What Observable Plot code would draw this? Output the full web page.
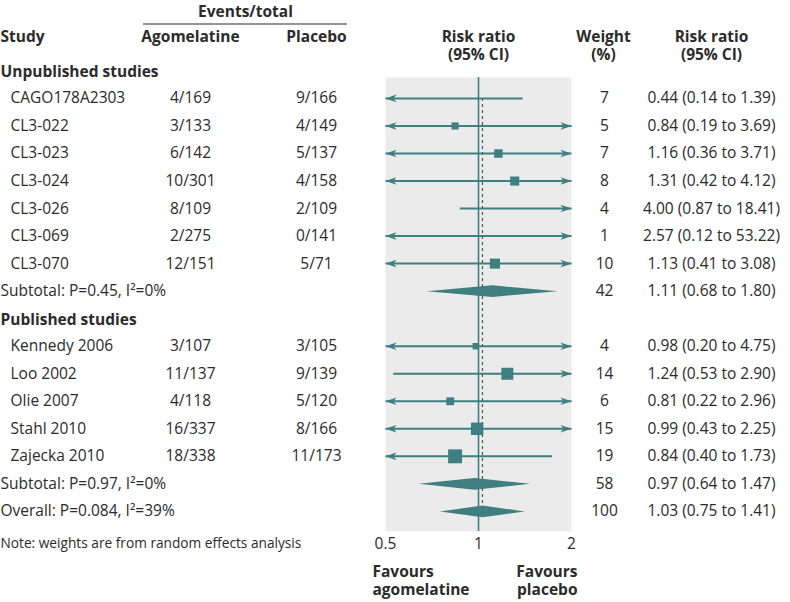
<!DOCTYPE html>
<html>
<head>
<meta charset="utf-8">
<script src="https://cdn.jsdelivr.net/npm/d3@7"></script>
<script src="https://cdn.jsdelivr.net/npm/@observablehq/plot@0.6"></script>
<style>
  html, body { margin: 0; padding: 0; background: #fff; }
  #chart { width: 790px; height: 602px; }
</style>
</head>
<body>
<div id="chart"></div>
<script>
// ---------- data ----------
const studyNames = ["CAGO178A2303","CL3-022","CL3-023","CL3-024","CL3-026","CL3-069","CL3-070",
                    "Kennedy 2006","Loo 2002","Olie 2007","Stahl 2010","Zajecka 2010"];
const studyRows = [0,1,2,3,4,5,6,9,10,11,12,13];
const agomelatine = ["4/169","3/133","6/142","10/301","8/109","2/275","12/151","3/107","11/137","4/118","16/337","18/338"];
const placebo = ["9/166","4/149","5/137","4/158","2/109","0/141","5/71","3/105","9/139","5/120","8/166","11/173"];
const riskRatio = [0.44,0.84,1.16,1.31,4.00,2.57,1.13,0.98,1.24,0.81,0.99,0.84];
const lowerCI = [0.14,0.19,0.36,0.42,0.87,0.12,0.41,0.20,0.53,0.22,0.43,0.40];
const upperCI = [1.39,3.69,3.71,4.12,18.41,53.22,3.08,4.75,2.90,2.96,2.25,1.73];
const weights = [7,5,7,8,4,1,10,4,14,6,15,19];

const groupLabels = ["Unpublished studies","Published studies"];
const groupRows = [-1,8];

const summaryLabels = ["Subtotal: P=0.45, I²=0%","Subtotal: P=0.97, I²=0%","Overall: P=0.084, I²=39%"];
const summaryRows = [7,14,15];
const summaryRR = [1.11,0.97,1.03];
const summaryLower = [0.68,0.64,0.75];
const summaryUpper = [1.80,1.47,1.41];
const summaryWeights = [42,58,100];

const axisTicks = [0.5,1,2];
const overallRR = 1.03;
const noteText = "Note: weights are from random effects analysis";

// ---------- derived tables ----------
const XMIN = 0.5, XMAX = 2;
const studies = studyNames.map((name,i) => ({
  name, row: studyRows[i], ago: agomelatine[i], pla: placebo[i],
  rr: riskRatio[i], lo: lowerCI[i], hi: upperCI[i], w: weights[i],
  x1: Math.max(lowerCI[i], XMIN), x2: Math.min(upperCI[i], XMAX),
  label: `${riskRatio[i].toFixed(2)} (${lowerCI[i].toFixed(2)} to ${upperCI[i].toFixed(2)})`
}));
const summaries = summaryLabels.map((name,i) => ({
  name, row: summaryRows[i], rr: summaryRR[i], lo: summaryLower[i], hi: summaryUpper[i], w: summaryWeights[i],
  label: `${summaryRR[i].toFixed(2)} (${summaryLower[i].toFixed(2)} to ${summaryUpper[i].toFixed(2)})`
}));
const H = 0.21; // diamond half height in row units
const diamondPts = summaries.flatMap((s,i) => [
  {id:i, x:s.lo, y:s.row}, {id:i, x:s.rr, y:s.row - H},
  {id:i, x:s.hi, y:s.row}, {id:i, x:s.rr, y:s.row + H}
]);
const leftArrows = studies.filter(d => d.lo < XMIN);
const rightArrows = studies.filter(d => d.hi > XMAX);
const squares = studies.filter(d => d.rr >= XMIN && d.rr <= XMAX);

// stealth arrow symbol pointing right, tip at origin
const stealth = {
  draw(ctx) {
    ctx.moveTo(0, 0);
    ctx.lineTo(-11, -3.8);
    ctx.lineTo(-8, 0);
    ctx.lineTo(-11, 3.8);
    ctx.closePath();
  }
};

const TEAL = "#3f7f81";
const INK = "#2b2b2b";
const FONT = "'Open Sans', 'Noto Sans', sans-serif";
const FS = 15.5;
const FL = 385; // frame left pixel
const FR = 571; // frame right pixel

const headerLine = () => {
  const l = document.createElementNS("http://www.w3.org/2000/svg", "line");
  l.setAttribute("x1", 143); l.setAttribute("x2", 347);
  l.setAttribute("y1", 24); l.setAttribute("y2", 24);
  l.setAttribute("stroke", INK); l.setAttribute("stroke-width", 1.2);
  return l;
};

const hdr = (text, anchor, dx, dy, extra = {}) =>
  Plot.text([text], {frameAnchor: anchor, dx, dy, text: d => d, lineAnchor: "middle", fontWeight: "bold", fontSize: FS, fill: INK, ...extra});

const chart = Plot.plot({
  width: 790, height: 602,
  marginLeft: FL, marginRight: 790 - FR, marginTop: 77, marginBottom: 71,
  style: {fontFamily: FONT, fontSize: FS + "px", color: INK, background: "#fff"},
  x: {type: "log", domain: [XMIN, XMAX]},
  y: {domain: [-0.76, 15.73], reverse: true, axis: null},
  r: {type: "sqrt", domain: [0, 19], range: [0, 7.87]},
  marks: [
    Plot.frame({fill: "#ebebeb", stroke: null}),
    Plot.axisX({ticks: axisTicks, tickSize: 0, tickPadding: 6, tickFormat: d => String(d), fontSize: FS, label: null, color: INK}),
    Plot.ruleX([overallRR], {y1: 0, y2: 15, stroke: "#555", strokeDasharray: "3,3", strokeWidth: 1.2}),
    Plot.ruleX([1], {stroke: TEAL, strokeWidth: 1.6}),
    // CI lines
    Plot.link(studies, {x1: "x1", x2: "x2", y1: "row", y2: "row", stroke: TEAL, strokeWidth: 2}),
    Plot.dot(leftArrows, {x: () => XMIN, y: "row", symbol: stealth, rotate: 180, fill: TEAL, stroke: null}),
    Plot.dot(rightArrows, {x: () => XMAX, y: "row", symbol: stealth, fill: TEAL, stroke: null}),
    Plot.dot(squares, {x: "rr", y: "row", r: "w", symbol: "square", fill: TEAL, stroke: null}),
    // diamonds
    Plot.line(diamondPts, {x: "x", y: "y", z: "id", fill: TEAL, stroke: null}),
    // left table
    Plot.text(groupLabels, {y: (d,i) => groupRows[i], frameAnchor: "left", dx: -FL, dy: 1, textAnchor: "start", text: d => d, fontWeight: "bold", fontSize: FS, fill: INK}),
    Plot.text(studies, {y: "row", frameAnchor: "left", dx: 10 - FL, textAnchor: "start", text: "name", fill: INK}),
    Plot.text(studies, {y: "row", frameAnchor: "left", dx: 190 - FL, textAnchor: "middle", text: "ago", fill: INK}),
    Plot.text(studies, {y: "row", frameAnchor: "left", dx: 316 - FL, textAnchor: "middle", text: "pla", fill: INK}),
    Plot.text(summaries, {y: "row", frameAnchor: "left", dx: -FL, textAnchor: "start", text: "name", fill: INK}),
    // right table
    Plot.text(studies, {y: "row", frameAnchor: "right", dx: 604 - FR, textAnchor: "middle", text: d => String(d.w), fill: INK}),
    Plot.text(studies, {y: "row", frameAnchor: "right", dx: 711 - FR, textAnchor: "middle", text: "label", fill: INK}),
    Plot.text(summaries, {y: "row", frameAnchor: "right", dx: 604 - FR, textAnchor: "middle", text: d => String(d.w), fill: INK}),
    Plot.text(summaries, {y: "row", frameAnchor: "right", dx: 711 - FR, textAnchor: "middle", text: "label", fill: INK}),
    // headers
    headerLine,
    hdr("Events/total", "top-left", 245 - FL, 12 - 77, {textAnchor: "middle"}),
    hdr("Study", "top-left", -FL, 37 - 77, {textAnchor: "start"}),
    hdr("Agomelatine", "top-left", 190 - FL, 37 - 77, {textAnchor: "middle"}),
    hdr("Placebo", "top-left", 316 - FL, 37 - 77, {textAnchor: "middle"}),
    hdr("Risk ratio", "top-left", 478 - FL, 37 - 77, {textAnchor: "middle"}),
    hdr("(95% CI)", "top-left", 478 - FL, 55 - 77, {textAnchor: "middle"}),
    hdr("Weight", "top-right", 603 - FR, 37 - 77, {textAnchor: "middle"}),
    hdr("(%)", "top-right", 603 - FR, 55 - 77, {textAnchor: "middle"}),
    hdr("Risk ratio", "top-right", 711 - FR, 37 - 77, {textAnchor: "middle"}),
    hdr("(95% CI)", "top-right", 711 - FR, 55 - 77, {textAnchor: "middle"}),
    // footer
    hdr("Favours", "bottom-left", 372 - FL, 572 - 531, {textAnchor: "start"}),
    hdr("agomelatine", "bottom-left", 372 - FL, 590 - 531, {textAnchor: "start"}),
    hdr("Favours", "bottom-right", 577 - FR, 572 - 531, {textAnchor: "end"}),
    hdr("placebo", "bottom-right", 577 - FR, 590 - 531, {textAnchor: "end"}),
    Plot.text([noteText], {frameAnchor: "bottom-left", dx: -FL, dy: 543 - 531, lineAnchor: "middle", textAnchor: "start", text: d => d, fontSize: 13.7, fill: INK})
  ]
});
document.getElementById("chart").appendChild(chart);
</script>
</body>
</html>
